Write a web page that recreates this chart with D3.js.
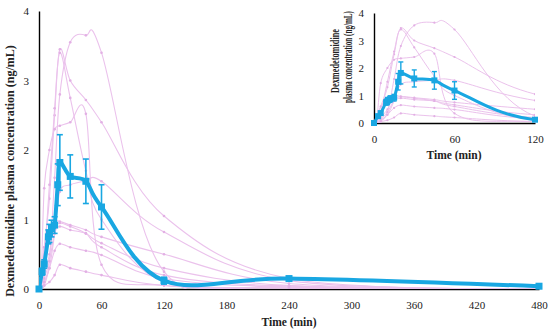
<html>
<head>
<script src="https://d3js.org/d3.v7.min.js"></script>
<style>
  body { margin: 0; background: #fff; }
  svg { display: block; }
  text { font-family: "Liberation Serif", "DejaVu Serif", serif; fill: #222; }
  .ttl { font-weight: bold; }
</style>
</head>
<body>
<svg width="550" height="330"></svg>
<script>
// sampling times (min)
var subjTime = [0, 2, 5, 10, 15, 20, 30, 45, 60, 120, 240, 480];
// individual plasma concentrations (ng/mL), one array per subject
var subj1 = [0, 0, 0.05, 0.4, 1.6, 2.8, 3.55, 3.65, 3.4, 0.25, 0.05, 0];
var subj2 = [0, 0.1, 0.6, 1.3, 2.5, 3.45, 3.0, 2.72, 2.4, 1.05, 0.15, 0];
var subj3 = [0, 0.05, 0.4, 1.5, 2.6, 3.4, 2.75, 1.7, 1.0, 0.1, 0.02, 0];
var subj4 = [0, 0.1, 1.45, 2.0, 2.3, 2.35, 2.4, 2.52, 0.35, 0.05, 0.02, 0];
var subj5 = [0, 0, 0.1, 0.3, 0.8, 1.4, 1.5, 1.55, 1.55, 0.82, 0.12, 0];
var subj6 = [0, 0.05, 0.2, 0.5, 0.95, 0.97, 0.92, 0.85, 0.75, 0.5, 0.08, 0];
var subj7 = [0, 0.05, 0.15, 0.4, 0.8, 0.9, 0.85, 0.8, 0.66, 0.3, 0.05, 0];
var subj8 = [0, 0, 0.1, 0.3, 0.55, 0.65, 0.6, 0.55, 0.49, 0.15, 0.03, 0];
var subj9 = [0, 0, 0.05, 0.1, 0.2, 0.35, 0.3, 0.25, 0.2, 0.05, 0.01, 0];
var subj10 = [0, 0.2, 0.6, 0.85, 0.9, 0.95, 0.9, 0.8, 0.6, 0.2, 0.04, 0];
var subjects = [subj1, subj2, subj3, subj4, subj5, subj6, subj7, subj8, subj9, subj10];

// mean +/- error
var meanTime = [0, 3, 5, 9, 10, 12, 15, 18, 20, 30, 45, 60, 120, 240, 480];
var meanConc = [0, 0.25, 0.36, 0.75, 0.8, 0.87, 0.92, 1.5, 1.82, 1.62, 1.55, 1.18, 0.12, 0.15, 0.04];
var meanErr  = [0, 0.05, 0.06, 0.1, 0.13, 0.12, 0.12, 0.3, 0.4, 0.31, 0.32, 0.32, 0.05, 0.03, 0.01];

var mainTicksX = [0, 60, 120, 180, 240, 300, 360, 420, 480];
var insetTicksX = [0, 60, 120];
var ticksY = [0, 1, 2, 3, 4];

var yTitle = "Dexmedetomidine plasma concentration (ng/mL)";
var yTitle1 = "Dexmedetomidine";
var yTitle2 = "plasma concentration (ng/mL)";
var xTitle = "Time (min)";

var pink = "#EBC2EC";
var blue = "#19A7E2";

var svg = d3.select("svg");

function panel(id, left, right, top, bottom, xmax, xticks, o) {
  var x = d3.scaleLinear().domain([0, xmax]).range([left, right]);
  var y = d3.scaleLinear().domain([0, 4]).range([bottom, top]);
  var g = svg.append("g").attr("id", id);

  g.append("clipPath").attr("id", id + "clip")
    .append("rect").attr("x", left).attr("y", top - 5)
    .attr("width", right - left).attr("height", bottom - top + 5);

  // axes (lines only, labels without tick marks)
  var yax = g.append("g").attr("transform", "translate(" + left + ",0)")
    .call(d3.axisLeft(y).tickValues(ticksY).tickFormat(d3.format("d")).tickSize(0).tickPadding(o.ypad));
  var xax = g.append("g").attr("transform", "translate(0," + bottom + ")")
    .call(d3.axisBottom(x).tickValues(xticks).tickFormat(d3.format("d")).tickSize(0).tickPadding(o.xpad));
  [yax, xax].forEach(function(a) {
    a.select(".domain").attr("stroke", "#000").attr("stroke-width", 1.4);
    a.selectAll("text").style("font-family", "Liberation Serif, serif")
      .style("font-size", o.fs + "px").attr("fill", "#333");
  });

  var plot = g.append("g").attr("clip-path", "url(#" + id + "clip)");

  var line = d3.line().curve(d3.curveCardinal)
    .x(function(d) { return x(d[0]); })
    .y(function(d) { return y(d[1]); });

  subjects.forEach(function(s) {
    var pts = subjTime.map(function(t, i) { return [t, s[i]]; });
    plot.append("path").attr("d", line(pts))
      .attr("fill", "none").attr("stroke", pink).attr("stroke-width", o.thin);
    plot.selectAll(null).data(pts).enter().append("circle")
      .attr("cx", function(d) { return x(d[0]); })
      .attr("cy", function(d) { return y(d[1]); })
      .attr("r", o.dot).attr("fill", "#E2B0E4");
  });

  var mpts = meanTime.map(function(t, i) { return [t, meanConc[i], meanErr[i]]; });

  // error bars
  var eb = plot.selectAll(null).data(mpts.filter(function(d) { return d[2] > 0; })).enter().append("g")
    .attr("stroke", blue).attr("stroke-width", o.ebw);
  eb.append("line")
    .attr("x1", function(d) { return x(d[0]); }).attr("x2", function(d) { return x(d[0]); })
    .attr("y1", function(d) { return y(d[1] - d[2]); }).attr("y2", function(d) { return y(d[1] + d[2]); });
  [-1, 1].forEach(function(sg) {
    eb.append("line")
      .attr("x1", function(d) { return x(d[0]) - o.cap; }).attr("x2", function(d) { return x(d[0]) + o.cap; })
      .attr("y1", function(d) { return y(d[1] + sg * d[2]); }).attr("y2", function(d) { return y(d[1] + sg * d[2]); });
  });

  plot.append("path").attr("d", line(mpts))
    .attr("fill", "none").attr("stroke", blue).attr("stroke-width", o.thick)
    .attr("stroke-linejoin", "round");

  g.selectAll(null).data(mpts.filter(function(d) { return d[0] <= xmax; })).enter().append("rect")
    .attr("x", function(d) { return x(d[0]) - o.sq / 2; })
    .attr("y", function(d) { return y(d[1]) - o.sq / 2; })
    .attr("width", o.sq).attr("height", o.sq).attr("fill", blue);

  return { x: x, y: y };
}

// rotated title squeezed to a given length (inset picture is squashed vertically)
function vtitle(cx, cy, size, len, str) {
  var t = svg.append("text").attr("class", "ttl")
    .attr("text-anchor", "middle").style("font-size", size + "px").text(str);
  var k = len / t.node().getComputedTextLength();
  t.attr("transform", "translate(" + cx + "," + cy + ") rotate(-90) scale(" + k + ",1)");
}

// main chart
panel("main", 39, 539, 11, 289, 480, mainTicksX,
  { fs: 11, ypad: 10, xpad: 12, thin: 1.1, dot: 1.3, thick: 4, sq: 7, cap: 3, ebw: 1.6 });

svg.append("text").attr("class", "ttl")
  .attr("x", 289).attr("y", 326).attr("text-anchor", "middle")
  .style("font-size", "11.5px").text(xTitle);
vtitle(14, 171, 11.5, 252, yTitle);

// inset
panel("inset", 374, 535, 13, 123, 120, insetTicksX,
  { fs: 11, ypad: 10, xpad: 12, thin: 1, dot: 1.1, thick: 3, sq: 6, cap: 2.5, ebw: 1.4 });

svg.append("text").attr("class", "ttl")
  .attr("x", 454).attr("y", 159).attr("text-anchor", "middle")
  .style("font-size", "11.5px").text(xTitle);
vtitle(339, 61, 12.5, 64, yTitle1);
vtitle(351.5, 57, 12.5, 92, yTitle2);
</script>
</body>
</html>
